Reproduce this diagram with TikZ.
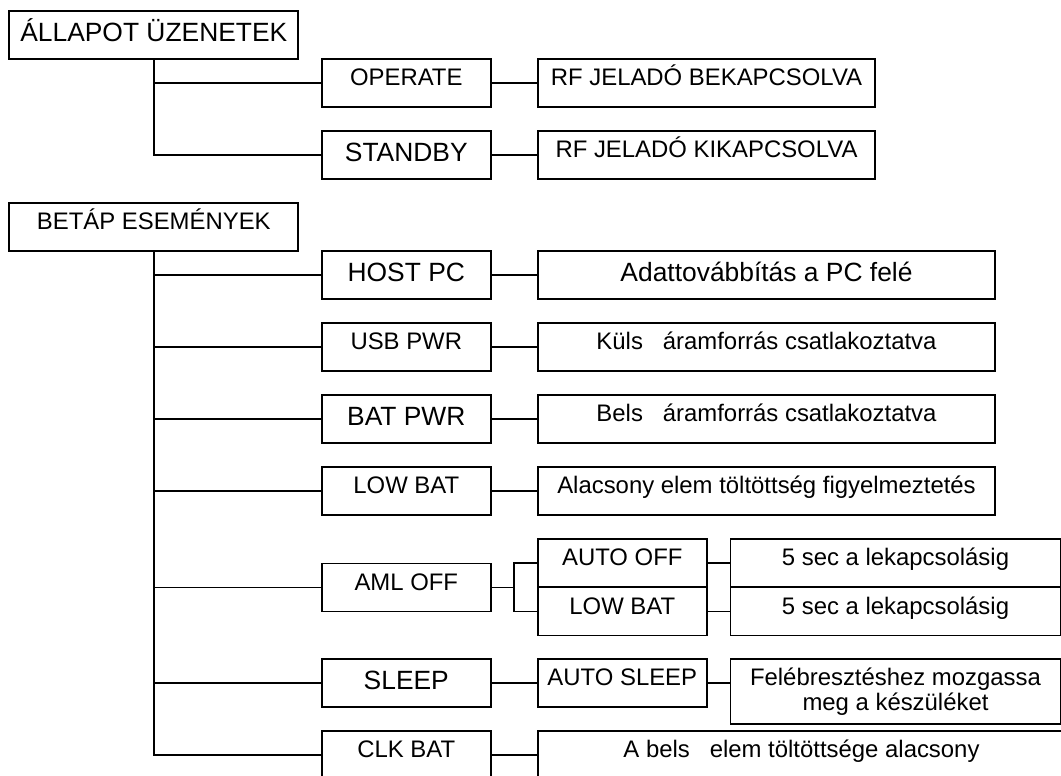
\documentclass[tikz,border=0pt]{standalone}
\usepackage{fontspec}
\setmainfont{Liberation Sans}
\usetikzlibrary{math}

\tikzset{
    box/.style={draw, rectangle, line width=1.9pt, inner sep=0pt, minimum height=48, text height=17pt, text depth=12pt, font=\fontsize{23.9}{25}\selectfont},
    bigbox/.style={box, text height=20pt, text depth=8pt, font=\fontsize{26.4}{28}\selectfont},
    link/.style={line width=1.9pt}
}

\begin{document}
\begin{tikzpicture}[x=1pt, y=-1pt]
    \useasboundingbox (0,0) rectangle (1061,776);
    \tikzmath{\xRoot = 153.8; \xEvt = 406.3; \xSub = 622.3; \xRf = 706.5; \xDesc = 766.5; \xEnd = 895.5; \xClk = 801.5;
              \yAll = 35.2; \yOp = 83.3; \yStb = 155.2; \yBet = 226.9; \yHost = 275.2; \yUsb = 346.9; \yBat = 419.3;
              \yLow = 491.2; \yAml = 587.5; \yAuto = 563.3; \yLowSub = 611.5; \ySleep = 683.3; \yWake = 691.5; \yClk = 755.3;}

    % allapot uzenetek
    \node[bigbox, minimum width=289](allapot) at (\xRoot,\yAll) {ÁLLAPOT ÜZENETEK};
    \node[box, minimum width=168.7](operate) at (\xEvt,\yOp) {OPERATE};
    \node[bigbox, minimum width=168.7](standby) at (\xEvt,\yStb) {STANDBY};
    \node[box, minimum width=337](rfon) at (\xRf,\yOp) {RF JELADÓ BEKAPCSOLVA};
    \node[box, minimum width=337](rfoff) at (\xRf,\yStb) {RF JELADÓ KIKAPCSOLVA};

    % betap esemenyek
    \node[box, minimum width=289](betap) at (\xRoot,\yBet) {BETÁP ESEMÉNYEK};
    \node[bigbox, minimum width=168.7](hostpc) at (\xEvt,\yHost) {HOST PC};
    \node[box, minimum width=168.7](usbpwr) at (\xEvt,\yUsb) {USB PWR};
    \node[bigbox, minimum width=168.7](batpwr) at (\xEvt,\yBat) {BAT PWR};
    \node[box, minimum width=168.7](lowbat) at (\xEvt,\yLow) {LOW BAT};
    \node[box, minimum width=168.7](amloff) at (\xEvt,\yAml) {AML OFF};
    \node[bigbox, minimum width=168.7](sleep) at (\xEvt,\ySleep) {SLEEP};
    \node[box, minimum width=168.7](clkbat) at (\xEvt,\yClk) {CLK BAT};

    \node[bigbox, minimum width=457](host-desc) at (\xDesc,\yHost) {Adattovábbítás a PC felé};
    \node[box, minimum width=457](usb-desc) at (\xDesc,\yUsb) {Küls\hspace{.556em} áramforrás csatlakoztatva};
    \node[box, minimum width=457](bat-desc) at (\xDesc,\yBat) {Bels\hspace{.556em} áramforrás csatlakoztatva};
    \node[box, minimum width=457](low-desc) at (\xDesc,\yLow) {Alacsony elem töltöttség figyelmeztetés};

    \node[box, minimum width=168.7](autooff) at (\xSub,\yAuto) {AUTO OFF};
    \node[box, minimum width=168.7](lowsub) at (\xSub,\yLowSub) {LOW BAT};
    \node[box, minimum width=330](autooff-desc) at (\xEnd,\yAuto) {5 sec a lekapcsolásig};
    \node[box, minimum width=330](lowsub-desc) at (\xEnd,\yLowSub) {5 sec a lekapcsolásig};

    \node[box, minimum width=168.7](autosleep) at (\xSub,\ySleep) {AUTO SLEEP};
    \node[draw, rectangle, line width=1.9pt, inner sep=0pt, align=center, minimum width=330, minimum height=64.4, font=\fontsize{23.9}{25}\selectfont](sleep-desc) at (\xEnd,\yWake) {Felébresztéshez mozgassa\\meg a készüléket};

    \node[box, minimum width=527](clk-desc) at (\xClk,\yClk) {A bels\hspace{.556em} elem töltöttsége alacsony};

    \coordinate (brk) at (514.3,\yAml);

    \draw[link] (allapot.south) |- (standby.west);
    \draw[link] (allapot.south |- operate.west) -- (operate.west);
    \draw[link] (operate) -- (rfon);
    \draw[link] (standby) -- (rfoff);

    \draw[link] (betap.south) |- (clkbat.west);
    \foreach \n in {hostpc, usbpwr, batpwr, lowbat, amloff, sleep}
        \draw[link] (betap.south |- \n.west) -- (\n.west);

    \draw[link] (hostpc) -- (host-desc);
    \draw[link] (usbpwr) -- (usb-desc);
    \draw[link] (batpwr) -- (bat-desc);
    \draw[link] (lowbat) -- (low-desc);
    \draw[link] (amloff.east) -- (brk);
    \draw[link] (autooff.west) -| (brk) |- (lowsub.west);
    \draw[link] (autooff) -- (autooff-desc);
    \draw[link] (lowsub) -- (lowsub-desc);
    \draw[link] (sleep) -- (autosleep);
    \draw[link] (autosleep.east) -- (autosleep.east -| sleep-desc.west);
    \draw[link] (clkbat) -- (clk-desc);
\end{tikzpicture}
\end{document}
